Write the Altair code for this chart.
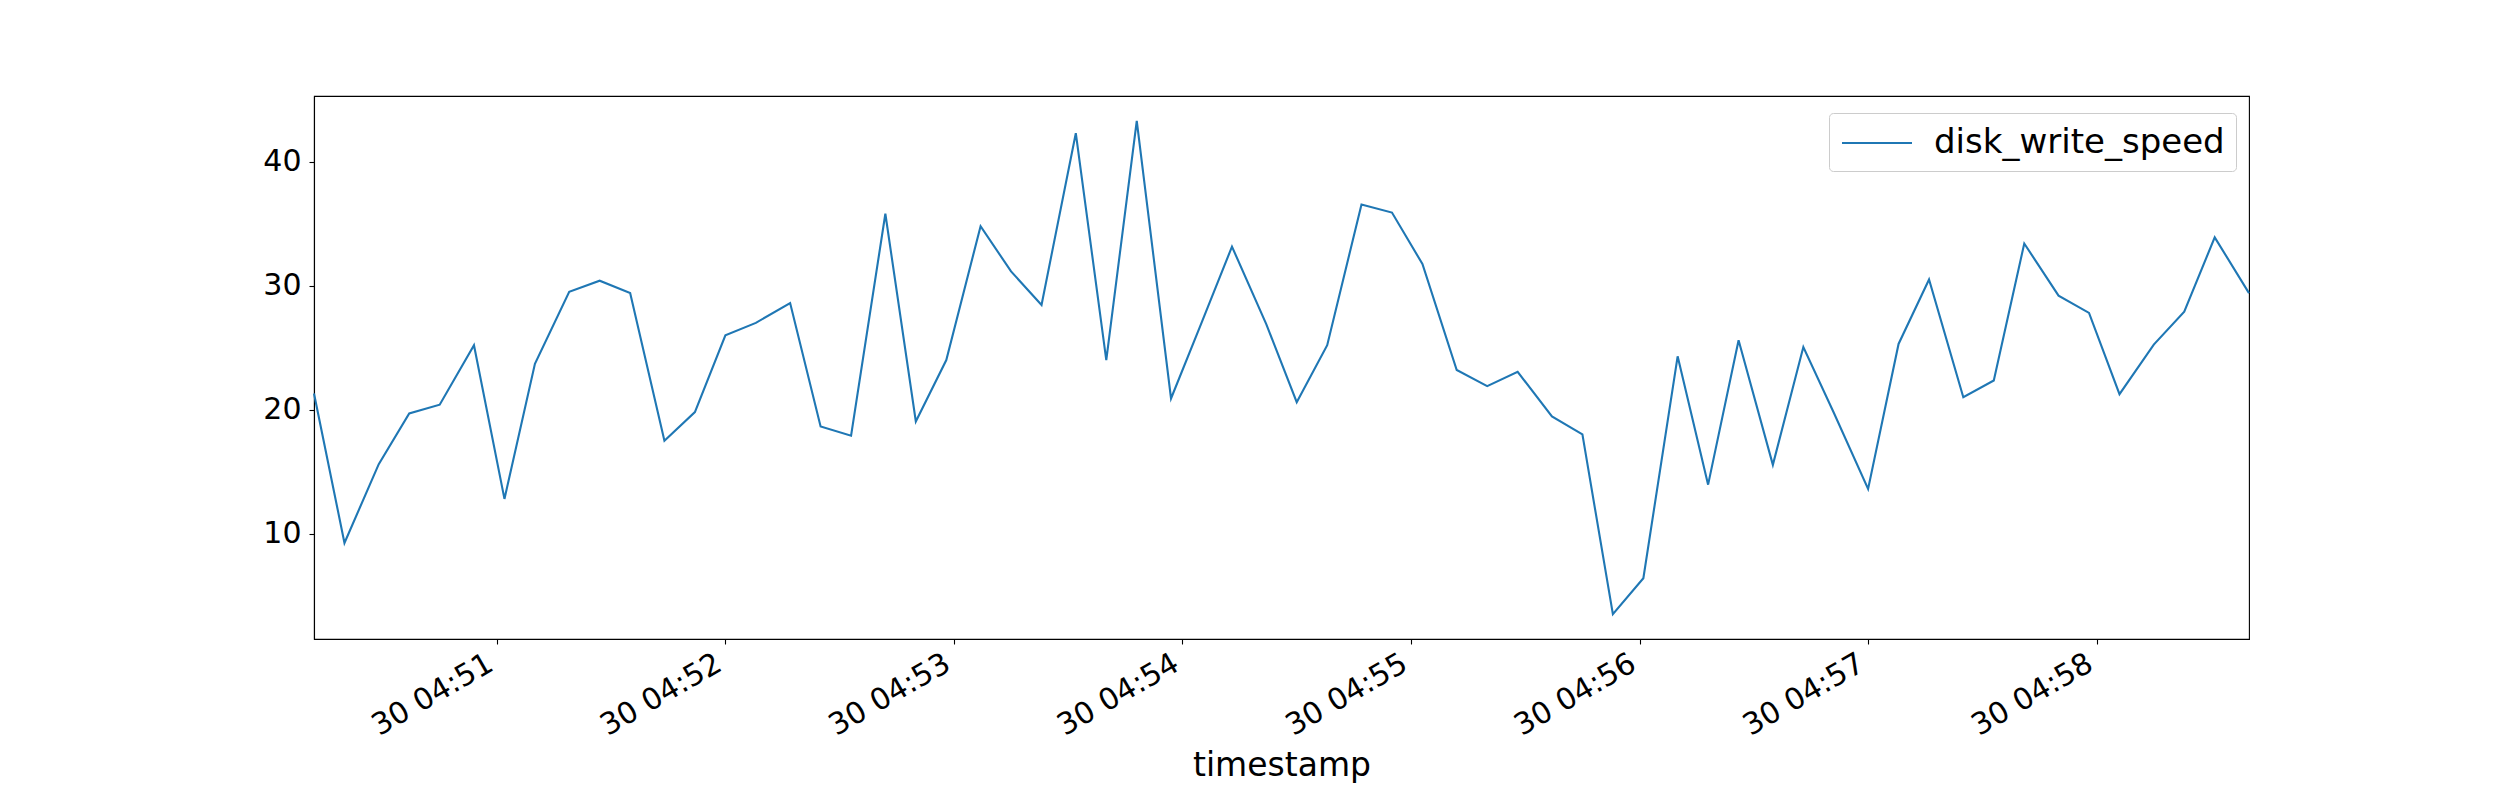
import altair as alt
import pandas as pd

day = "2023-06-30"
times = [
    "04:50:12", "04:50:20", "04:50:29", "04:50:37", "04:50:45", "04:50:54",
    "04:51:02", "04:51:10", "04:51:19", "04:51:27", "04:51:35", "04:51:44",
    "04:51:52", "04:52:00", "04:52:08", "04:52:17", "04:52:25", "04:52:33",
    "04:52:42", "04:52:50", "04:52:58", "04:53:07", "04:53:15", "04:53:23",
    "04:53:32", "04:53:40", "04:53:48", "04:53:57", "04:54:05", "04:54:13",
    "04:54:22", "04:54:30", "04:54:38", "04:54:47", "04:54:55", "04:55:03",
    "04:55:12", "04:55:20", "04:55:28", "04:55:37", "04:55:45", "04:55:53",
    "04:56:01", "04:56:10", "04:56:18", "04:56:26", "04:56:35", "04:56:43",
    "04:56:51", "04:57:00", "04:57:08", "04:57:16", "04:57:25", "04:57:33",
    "04:57:41", "04:57:50", "04:57:58", "04:58:06", "04:58:15", "04:58:23",
    "04:58:31", "04:58:40",
]
disk_write_speed = [
    21.3, 9.25, 15.6, 19.7, 20.4, 25.2, 12.8, 23.7, 29.5, 30.4, 29.4, 17.5,
    19.8, 26.0, 27.0, 28.6, 18.65, 17.9, 35.8, 19.05, 24.0, 34.8, 31.15, 28.45,
    42.3, 24.0, 43.3, 20.9, 27.0, 33.15, 26.9, 20.6, 25.2, 36.55, 35.9, 31.75,
    23.2, 21.9, 23.05, 19.45, 18.0, 3.5, 6.4, 24.3, 13.95, 25.6, 15.55, 25.05,
    19.75, 13.6, 25.3, 30.5, 21.0, 22.35, 33.4, 29.2, 27.8, 21.25, 25.25, 27.9,
    33.9, 29.4,
]
series_name = "disk_write_speed"
x_tick_minutes = [51, 52, 53, 54, 55, 56, 57, 58]
y_ticks = [10, 20, 30, 40]

df = pd.DataFrame({
    "timestamp": [f"{day}T{t}" for t in times],
    "disk_write_speed": disk_write_speed,
    "series": series_name,
})

x_ticks = [alt.DateTime(year=2023, month=6, date=30, hours=4, minutes=m)
           for m in x_tick_minutes]

font = "DejaVu Sans"

chart = alt.Chart(df).mark_line(strokeWidth=2.1).encode(
    x=alt.X(
        "timestamp:T",
        title="timestamp",
        scale=alt.Scale(nice=False),
        axis=alt.Axis(
            format="%d %H:%M",
            values=x_ticks,
            labelAngle=330,
            labelAlign="right",
            labelBaseline="top",
            labelOffset=-14,
            labelPadding=4,
            tickSize=5,
            grid=False,
            titlePadding=8,
        ),
    ),
    y=alt.Y(
        "disk_write_speed:Q",
        title=None,
        scale=alt.Scale(domain=[1.5, 45.3], nice=False, zero=False),
        axis=alt.Axis(values=y_ticks, grid=False, tickSize=5, labelPadding=8),
    ),
    color=alt.Color(
        "series:N",
        scale=alt.Scale(domain=[series_name], range=["#1f77b4"]),
        legend=alt.Legend(
            title=None,
            orient="none",
            legendX=1515,
            legendY=17,
            # long horizontal stroke, wider than the unit box
            symbolType="M-2,0H2",
            symbolSize=1225,
            symbolStrokeWidth=2.1,
            symbolOffset=18,
            labelOffset=38,
            labelLimit=0,
            padding=11,
            strokeColor="#cccccc",
            cornerRadius=4,
            fillColor="white",
        ),
    ),
).properties(
    width=1935,
    height=543,
    autosize=alt.AutoSizeParams(type="none"),
    padding={"left": 306, "top": 88, "right": 243, "bottom": 153},
    background="white",
).configure_axis(
    labelFont=font,
    labelFontSize=30,
    labelColor="black",
    titleFont=font,
    titleFontSize=33,
    titleFontWeight="normal",
    titleColor="black",
    domainColor="black",
    domainWidth=1.1,
    tickColor="black",
    tickWidth=1.1,
).configure_legend(
    labelFont=font,
    labelFontSize=34,
    labelColor="black",
).configure_view(
    stroke="black",
    strokeWidth=1.1,
)

chart.save("out.html", embed_options={"renderer": "svg", "actions": False})
